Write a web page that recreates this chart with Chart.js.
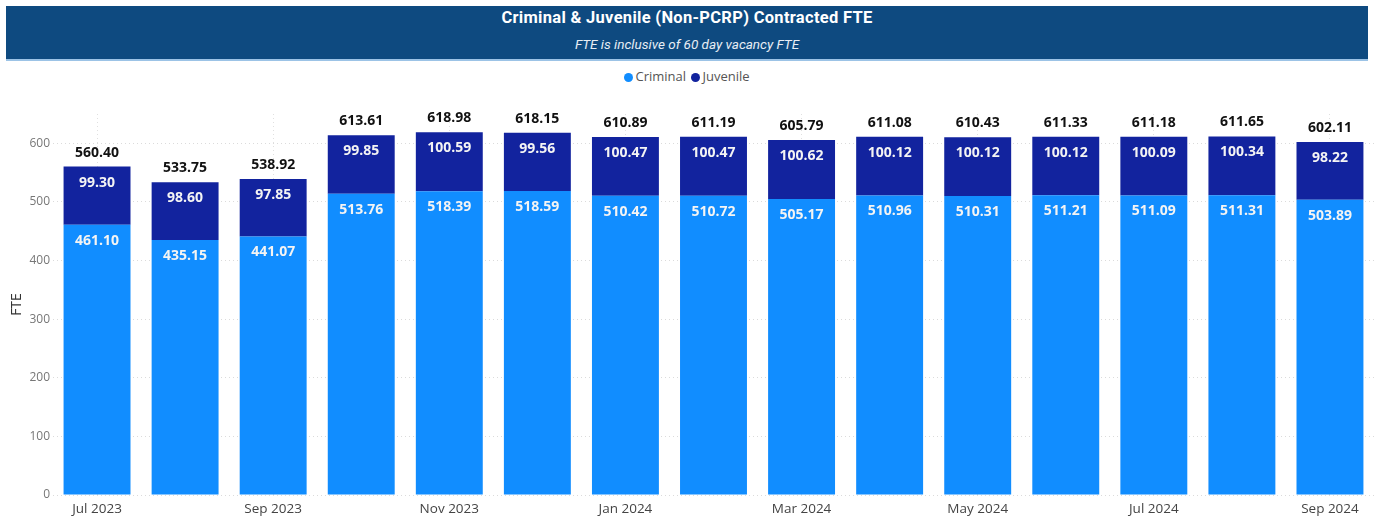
<!DOCTYPE html>
<html>
<head>
<meta charset="utf-8">
<script src="https://cdn.jsdelivr.net/npm/chart.js@4"></script>
<style>
  html, body { margin: 0; padding: 0; background: #fff; overflow: hidden; }
  body { width: 1374px; height: 520px; position: relative; font-family: "Open Sans", sans-serif; }
  #header {
    position: absolute; left: 6px; top: 6px; width: 1362px; height: 53px;
    background: #0e4a80; border-bottom: 2px solid #9cc3e6; color: #fff; text-align: center;
  }
  #header .title { font-family: Roboto, sans-serif; font-weight: bold; font-size: 16.5px; line-height: 20px; margin-top: 2px; letter-spacing: 0.3px; }
  #header .sub { font-family: Roboto, sans-serif; font-style: italic; font-size: 13.5px; line-height: 16px; margin-top: 8px; color: #e8eef5; }
  #legend { position: absolute; top: 67px; left: 0; width: 1374px; text-align: center; font-size: 13px; color: #555; }
  #legend span.dot { display: inline-block; width: 9px; height: 9px; border-radius: 50%; margin-right: 2px; vertical-align: -0.5px; }
  #chart { position: absolute; left: 0; top: 88px; }
</style>
</head>
<body>
<div id="header">
  <div class="title">Criminal &amp; Juvenile (Non-PCRP) Contracted FTE</div>
  <div class="sub">FTE is inclusive of 60 day vacancy FTE</div>
</div>
<div id="legend">
  <span class="dot" style="background:#118dff"></span>Criminal
  <span class="dot" style="background:#12239e;margin-left:2px"></span>Juvenile
</div>
<canvas id="chart" width="1374" height="432"></canvas>
<script>
// months along the x axis
const months = ['Jul 2023', 'Aug 2023', 'Sep 2023', 'Oct 2023', 'Nov 2023', 'Dec 2023',
  'Jan 2024', 'Feb 2024', 'Mar 2024', 'Apr 2024', 'May 2024', 'Jun 2024',
  'Jul 2024', 'Aug 2024', 'Sep 2024'];

const criminal = [461.10, 435.15, 441.07, 513.76, 518.39, 518.59, 510.42, 510.72,
  505.17, 510.96, 510.31, 511.21, 511.09, 511.31, 503.89];

const juvenile = [99.30, 98.60, 97.85, 99.85, 100.59, 99.56, 100.47, 100.47,
  100.62, 100.12, 100.12, 100.12, 100.09, 100.34, 98.22];

const yTicks = [0, 100, 200, 300, 400, 500, 600];

const criminalColor = '#118dff';
const juvenileColor = '#12239e';

// draws value labels inside the segments and totals on top
const barLabels = {
  id: 'barLabels',
  afterDatasetsDraw(chart) {
    const ctx = chart.ctx;
    ctx.save();
    ctx.font = 'bold 14px "Open Sans"';
    ctx.textAlign = 'center';
    ctx.textBaseline = 'middle';
    chart.data.datasets.forEach((ds, i) => {
      const meta = chart.getDatasetMeta(i);
      meta.data.forEach((bar, j) => {
        ctx.fillStyle = '#f4f4f4';
        ctx.fillText(ds.data[j].toFixed(2), bar.x, bar.y + 16);
      });
    });
    // totals above the top segment
    const top = chart.getDatasetMeta(1);
    top.data.forEach((bar, j) => {
      const total = criminal[j] + juvenile[j];
      ctx.fillStyle = '#111';
      ctx.fillText(total.toFixed(2), bar.x, bar.y - 14);
    });
    ctx.restore();
  }
};

const ctx = document.getElementById('chart').getContext('2d');
new Chart(ctx, {
  type: 'bar',
  data: {
    labels: months,
    datasets: [
      { label: 'Criminal', data: criminal, backgroundColor: criminalColor, barPercentage: 0.76, categoryPercentage: 1 },
      { label: 'Juvenile', data: juvenile, backgroundColor: juvenileColor, barPercentage: 0.76, categoryPercentage: 1 }
    ]
  },
  options: {
    responsive: false,
    animation: false,
    layout: { padding: { top: 26, right: 0, left: 0, bottom: 0 } },
    plugins: {
      legend: { display: false },
      tooltip: { enabled: false }
    },
    scales: {
      x: {
        stacked: true,
        border: { display: false, dash: [1, 3] },
        grid: {
          offset: false,
          drawTicks: false,
          color: (c) => (c.index % 2 === 0 ? 'rgba(0,0,0,0.12)' : 'rgba(0,0,0,0)')
        },
        ticks: {
          autoSkip: false,
          maxRotation: 0,
          padding: 6,
          color: '#444',
          font: { family: '"Open Sans"', size: 13.5 },
          callback: (v, i) => (i % 2 === 0 ? months[i] : '')
        },
        afterFit: (scale) => { scale.height = 25; }
      },
      y: {
        stacked: true,
        min: 0,
        max: 650,
        border: { display: false, dash: [1, 3] },
        grid: { drawTicks: false, color: 'rgba(0,0,0,0.14)' },
        afterBuildTicks: (scale) => { scale.ticks = yTicks.map(v => ({ value: v })); },
        ticks: {
          padding: 3,
          color: '#777',
          font: { family: '"Open Sans"', size: 12 }
        },
        title: {
          display: true,
          text: 'FTE',
          color: '#333',
          padding: { top: 9, bottom: 0 },
          font: { family: '"Open Sans"', size: 14 }
        },
        afterFit: (scale) => { scale.width = 53; }
      }
    }
  },
  plugins: [barLabels]
});
</script>
</body>
</html>
